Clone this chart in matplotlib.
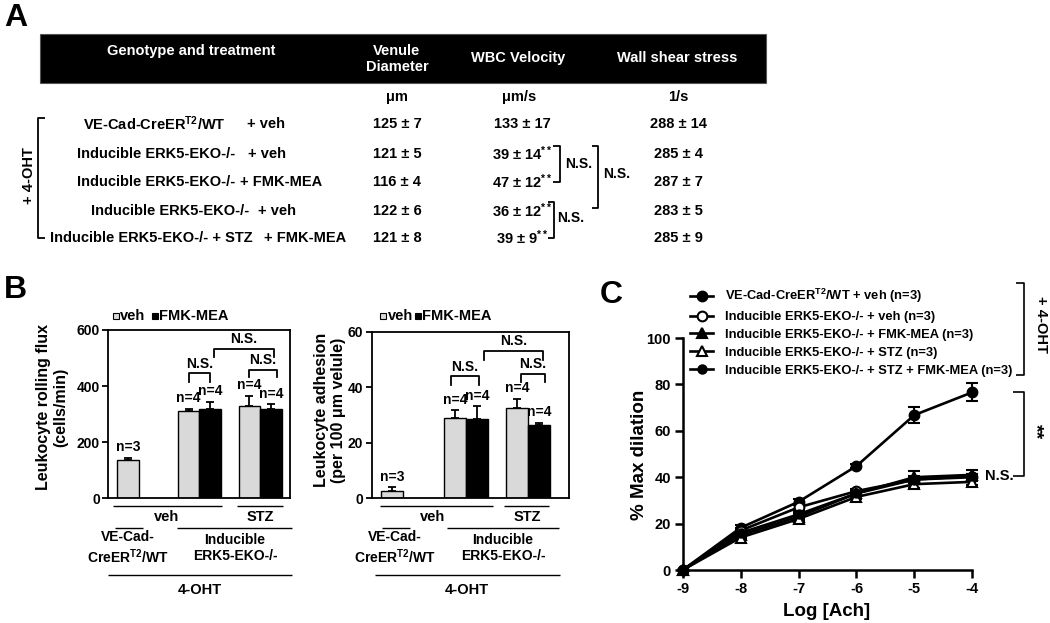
import matplotlib
matplotlib.use("Agg")
import matplotlib.pyplot as plt
from matplotlib.patches import Rectangle

plt.rcParams['font.family'] = ['Liberation Sans', 'DejaVu Sans']
plt.rcParams['font.weight'] = 'bold'
plt.rcParams['mathtext.fontset'] = 'custom'
plt.rcParams['mathtext.rm'] = 'Liberation Sans:bold'
plt.rcParams['mathtext.bf'] = 'Liberation Sans:bold'
plt.rcParams['mathtext.it'] = 'Liberation Sans:bold'
plt.rcParams['mathtext.default'] = 'bf'
plt.rcParams['axes.unicode_minus'] = False

# ---------------- Panel A data (table) ----------------
tab_headers = ["Genotype and treatment", "Venule\nDiameter", "WBC Velocity", "Wall shear stress"]
tab_units = ["μm", "μm/s", "1/s"]
genotypes = ["VE-Cad-CreER$^{T2}$/WT", "Inducible ERK5-EKO-/-", "Inducible ERK5-EKO-/-",
             "Inducible ERK5-EKO-/-", "Inducible ERK5-EKO-/- + STZ"]
treatments = ["+ veh", "+ veh", "+ FMK-MEA", "+ veh", "+ FMK-MEA"]
diameter = ["125 ± 7", "121 ± 5", "116 ± 4", "122 ± 6", "121 ± 8"]
velocity = ["133 ± 17", "39 ± 14$^{**}$", "47 ± 12$^{**}$", "36 ± 12$^{**}$", "39 ± 9$^{**}$"]
shear = ["288 ± 14", "285 ± 4", "287 ± 7", "283 ± 5", "285 ± 9"]

# ---------------- Panel B data ----------------
bar_treat = ["veh", "veh", "FMK-MEA", "veh", "FMK-MEA"]
n_labels = ["n=3", "n=4", "n=4", "n=4", "n=4"]
rolling_flux = [135, 311, 320, 330, 320]
rolling_err = [10, 8, 25, 35, 15]
adhesion = [2.4, 28.7, 28.4, 32.4, 26.3]
adhesion_err = [1.5, 3.0, 4.8, 3.4, 0.9]

# ---------------- Panel C data ----------------
log_ach = [-9, -8, -7, -6, -5, -4]
c_labels = ["VE-Cad-CreER$^{T2}$/WT + veh (n=3)",
            "Inducible ERK5-EKO-/- + veh (n=3)",
            "Inducible ERK5-EKO-/- + FMK-MEA (n=3)",
            "Inducible ERK5-EKO-/- + STZ (n=3)",
            "Inducible ERK5-EKO-/- + STZ + FMK-MEA (n=3)"]
wt_veh = [0, 18.2, 29.4, 44.8, 66.8, 76.6]
wt_veh_err = [0, 1.0, 1.0, 1.0, 3.5, 3.8]
eko_veh = [0, 17.0, 27.0, 34.0, 39.0, 40.0]
eko_veh_err = [0, 1.0, 1.0, 1.0, 1.5, 1.5]
eko_fmk = [0, 15.0, 23.0, 33.0, 40.0, 41.0]
eko_fmk_err = [0, 1.0, 1.0, 1.0, 2.5, 2.0]
eko_stz = [0, 14.0, 22.0, 31.5, 37.0, 38.0]
eko_stz_err = [0, 1.0, 1.0, 1.0, 1.5, 1.5]
eko_stz_fmk = [0, 16.0, 24.0, 33.0, 39.0, 40.5]
eko_stz_fmk_err = [0, 1.0, 1.0, 1.0, 1.0, 1.0]

W, H = 1050, 623
fig = plt.figure(figsize=(10.5, 6.23), dpi=100)


def fx(px):
    return px / W


def fy(py):
    return (H - py) / H


# ---------------- Panel B ----------------
pos1 = [0, 2.79, 3.79, 5.59, 6.59]
pos2 = [0, 2.86, 3.86, 5.68, 6.68]
bar_colors = ['#d9d9d9' if t == 'veh' else 'black' for t in bar_treat]


def bar_panel(rect, pos, vals, errs, xlim, ylim, yticks, brackets):
    ax = fig.add_axes(rect)
    ax.set_facecolor('none')
    ax.bar(pos, vals, width=1.0, color=bar_colors, edgecolor='black', linewidth=1.0, zorder=2)
    ax.errorbar(pos, vals, yerr=[[0] * len(vals), errs], fmt='none', ecolor='black',
                elinewidth=1.3, capsize=3.2, capthick=1.3, zorder=3)
    for p, v, e, n in zip(pos, vals, errs, n_labels):
        ax.annotate(n, (p, v + e), xytext=(0, 2.5), textcoords='offset points',
                    ha='center', va='bottom', fontsize=10, fontweight='bold')
    for (x0, x1, ytop, yleg) in brackets:
        ax.plot([x0, x0, x1, x1], [yleg, ytop, ytop, yleg], color='black', lw=1.3,
                clip_on=False, zorder=4)
        ax.annotate("N.S.", ((x0 + x1) / 2, ytop), xytext=(0, 2), textcoords='offset points',
                    ha='center', va='bottom', fontsize=10, fontweight='bold')
    ax.set_xlim(*xlim)
    ax.set_ylim(*ylim)
    ax.set_yticks(yticks)
    ax.set_xticks([])
    ax.tick_params(axis='y', direction='out', length=4, width=1.3, labelsize=10, pad=2)
    for s in ax.spines.values():
        s.set_linewidth(1.3)
    for lab in ax.get_yticklabels():
        lab.set_fontweight('bold')
    return ax


ax1 = bar_panel([fx(108.3), fy(498.3), fx(290) - fx(108.3), fy(330) - fy(498.3)],
                pos1, rolling_flux, rolling_err, (-0.91, 7.46), (0, 600), [0, 200, 400, 600],
                [(2.79, 3.79, 445, 415), (3.97, 6.72, 533, 502), (5.58, 6.85, 459, 433)])
ax2 = bar_panel([fx(371.7), fy(498), fx(569) - fx(371.7), fy(331.7) - fy(498)],
                pos2, adhesion, adhesion_err, (-0.92, 8.05), (0, 60), [0, 20, 40, 60],
                [(2.68, 3.94, 43.9, 40.8), (4.18, 6.85, 53.2, 49.7), (5.85, 6.97, 44.8, 41.7)])

# ---------------- Panel C ----------------
axc = fig.add_axes([fx(682.7), fy(570), fx(972.3) - fx(682.7), fy(338) - fy(570)])
axc.set_facecolor('none')
c_series = [wt_veh, eko_veh, eko_fmk, eko_stz, eko_stz_fmk]
c_errs = [wt_veh_err, eko_veh_err, eko_fmk_err, eko_stz_err, eko_stz_fmk_err]
c_markers = ['o', 'o', '^', '^', 'o']
c_faces = ['black', 'white', 'black', 'white', 'black']
c_msize = [7, 7, 7, 7, 6]
handles = []
for vals, errs, lab, m, fc, ms in zip(c_series, c_errs, c_labels, c_markers, c_faces, c_msize):
    axc.errorbar(log_ach, vals, yerr=errs, fmt='none', ecolor='black', elinewidth=1.5,
                 capsize=4.3, capthick=1.5, clip_on=False, zorder=2)
    ln, = axc.plot(log_ach, vals, color='black', lw=1.9, marker=m, markersize=ms,
                   markerfacecolor=fc, markeredgecolor='black', markeredgewidth=1.5,
                   label=lab, clip_on=False, zorder=3)
    handles.append(ln)
axc.set_xlim(-9, -4)
axc.set_ylim(0, 100)
axc.set_xticks(log_ach)
axc.set_yticks([0, 20, 40, 60, 80, 100])
axc.spines['top'].set_visible(False)
axc.spines['right'].set_visible(False)
for s in ['left', 'bottom']:
    axc.spines[s].set_linewidth(1.8)
axc.tick_params(direction='out', length=5.5, width=1.8, labelsize=10.5, pad=3)
for lab in axc.get_xticklabels() + axc.get_yticklabels():
    lab.set_fontweight('bold')
axc.legend(handles=handles, loc='upper left', bbox_to_anchor=(fx(690), fy(287)),
           bbox_transform=fig.transFigure, frameon=False, fontsize=9.3,
           handlelength=1.8, handletextpad=0.9, labelspacing=0.45, borderpad=0,
           borderaxespad=0)

# ---------------- Overlay (text, lines, table) ----------------
ov = fig.add_axes([0, 0, 1, 1], zorder=10)
ov.set_xlim(0, W)
ov.set_ylim(H, 0)
ov.axis('off')
ov.patch.set_alpha(0)


def line(xs, ys, lw=1.3):
    ov.plot(xs, ys, color='black', lw=lw, solid_capstyle='butt')


def txt(x, y, s, size=10.5, ha='center', va='center', rot=0, color='black', weight='bold', ls=1.2):
    ov.text(x, y, s, fontsize=size, ha=ha, va=va, rotation=rot, color=color,
            fontweight=weight, linespacing=ls)


# Panel letters
txt(16, 18, "A", size=23)
txt(15, 290, "B", size=23)
txt(611, 295, "C", size=23)

# Table header
ov.add_patch(Rectangle((40, 34), 726, 49, facecolor='black', edgecolor='#555555', lw=0.8))
txt(191, 51, tab_headers[0], color='white')
txt(397, 59, tab_headers[1], color='white', ls=1.1)
txt(518, 58, tab_headers[2], color='white')
txt(677, 58, tab_headers[3], color='white')
col_x = [397, 519, 678]
for cx, u in zip(col_x, tab_units):
    txt(cx, 97, u)
row_y = [124, 154, 182, 211, 238]
geno_right = [226, 235, 235, 249, 253]
treat_left = [247, 248, 240, 258, 264]
for y, g, t, gr, tl, d, v, s in zip(row_y, genotypes, treatments, geno_right, treat_left,
                                    diameter, velocity, shear):
    txt(gr, y, g, ha='right')
    txt(tl, y, t, ha='left')
    txt(col_x[0], y, d)
    txt(col_x[1] + 3, y, v)
    txt(col_x[2], y, s)

# Table brackets
line([45, 38, 38, 45], [118, 118, 238, 238])
txt(29, 176, "+ 4-OHT", rot=90)
line([553, 560, 560, 553], [146, 146, 182, 182])
txt(565, 164, "N.S.", ha='left', size=10)
line([592, 598, 598, 592], [146, 146, 208, 208])
txt(603, 174, "N.S.", ha='left', size=10)
line([548, 554, 554, 548], [202, 202, 238, 238])
txt(557, 218, "N.S.", ha='left', size=10)

# Panel B legends
for (sx, vx, bx, fxx) in [(112.5, 120, 151.5, 159), (380, 387.5, 414.5, 422)]:
    ov.add_patch(Rectangle((sx, 312.5), 6, 6, facecolor='#d9d9d9', edgecolor='black', lw=0.8))
    txt(vx, 315.5, "veh", ha='left', size=10.5)
    ov.add_patch(Rectangle((bx, 312.5), 6, 6, facecolor='black', edgecolor='black', lw=0.8))
    txt(fxx, 315.5, "FMK-MEA", ha='left', size=10.5)

# Panel B y labels
txt(52, 407, "Leukocyte rolling flux\n(cells/min)", size=11.5, rot=90, ls=1.15)
txt(330, 410, "Leukocyte adhesion\n(per 100 μm velule)", size=11.5, rot=90, ls=1.15)

# Panel B group annotations
for (v0, v1, s0, s1, vc, sc, c0, c1, i0, i1, cc, ic, o0, o1, oc) in [
        (113, 222, 237, 283, 167, 260, 115, 143, 177, 292, 128, 235, 108, 292, 200),
        (380, 493, 504, 549, 433, 527, 382, 410, 447, 559, 395, 503, 375, 560, 467)]:
    line([v0, v1], [505.5, 505.5], lw=1.0)
    line([s0, s1], [505.5, 505.5], lw=1.0)
    txt(vc, 517, "veh", size=10.5)
    txt(sc, 517, "STZ", size=10.5)
    line([c0, c1], [527.5, 527.5], lw=1.0)
    line([i0, i1], [527.5, 527.5], lw=1.0)
    txt(cc, 548, "VE-Cad-\nCreER$^{T2}$/WT", size=10, ls=1.25)
    txt(ic, 548, "Inducible\nERK5-EKO-/-", size=10, ls=1.25)
    line([o0, o1], [575, 575], lw=1.0)
    txt(oc, 590, "4-OHT", size=10.5)

# Panel C labels and brackets
txt(640, 455, "% Max dilation", size=13.5, rot=90)
txt(827, 611, "Log [Ach]", size=13.5)
line([1016, 1024, 1024, 1016], [283, 283, 375, 375], lw=1.2)
txt(1041, 324, "+ 4-OHT", size=10.5, rot=270)
line([1013, 1024, 1024, 1013], [391.5, 391.5, 476, 476], lw=1.2)
txt(1035, 432, "**", size=14, rot=270)
txt(985, 476, "N.S.", ha='left', size=10.5)

fig.savefig("out.png", dpi=100)
